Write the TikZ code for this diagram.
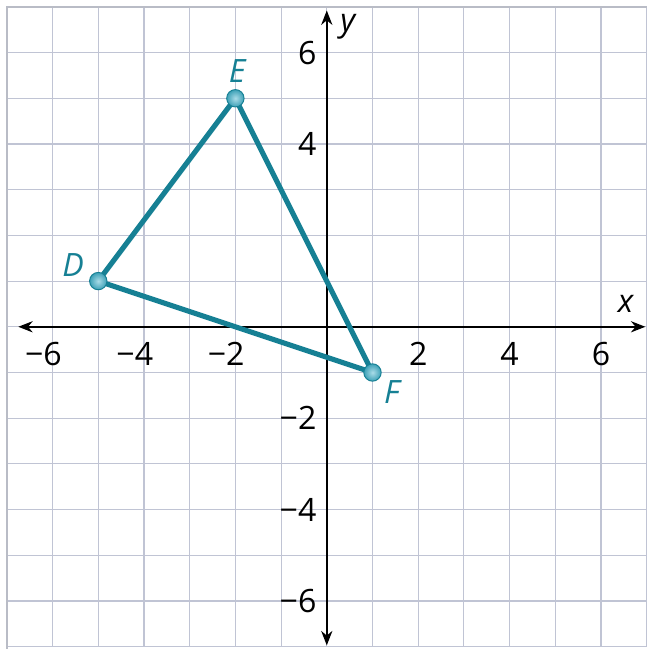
\documentclass[tikz,border=0pt]{standalone}
\usepackage{fontspec}
\setmainfont{Open Sans}
\usetikzlibrary{arrows.meta}
\definecolor{gridc}{RGB}{192,196,212}
\definecolor{framec}{RGB}{185,188,198}
\definecolor{teal}{RGB}{22,128,148}
\definecolor{ptlight}{RGB}{170,220,232}
\definecolor{ptmid}{RGB}{60,160,182}
\tikzset{
  gridline/.style={gridc, line width=0.7pt},
  axisline/.style={black, line width=0.9pt, -{Stealth[length=9pt,width=7pt]}},
  tri/.style={teal, line width=3.2pt, line join=round},
  pt/.style={circle, minimum size=0.38cm, inner sep=0pt, inner color=ptlight, outer color=ptmid, draw=teal, line width=0.6pt},
  lbl/.style={font=\fontsize{20}{24}\selectfont\itshape, text=teal},
  tick/.style={font=\fontsize{20}{24}\selectfont},
  axlbl/.style={font=\fontsize{20}{24}\selectfont\itshape}
}
\begin{document}
\begin{tikzpicture}
\useasboundingbox (-7.15,-7.05) rectangle (7.0,7.15);
\fill[white] (-7.15,-7.05) rectangle (7.0,7.15);
% grid
\draw[gridline] (-7,-7) grid (7,7);
\draw[framec, line width=1.6pt] (-7,-7.1) -- (-7,7) -- (7.1,7);
% axes
\coordinate (xl) at (-6.75,0);
\coordinate (xr) at (6.97,0);
\coordinate (yb) at (0,-6.97);
\coordinate (yt) at (0,6.92);
\draw[axisline] (0,0) -- (xr);
\draw[axisline] (0,0) -- (xl);
\draw[axisline] (0,0) -- (yt);
\draw[axisline] (0,0) -- (yb);
\node[axlbl] (xlab) at (6.54,0.5) {x};
\node[axlbl] (ylab) at (0.46,6.56) {y};
% tick labels
\foreach \v/\t in {-6/\llap{−}6,-4/\llap{−}4,-2/\llap{−}2,2/2,4/4,6/6}{
  \node[tick, anchor=north, inner sep=0pt] (tx\v) at (\v,-0.34) {\t};
}
\foreach \v/\t in {-6/−6,-4/−4,-2/−2,4/4,6/6}{
  \node[tick, anchor=east, inner sep=0pt] (ty\v) at (-0.22,\v) {\t};
}
% triangle
\coordinate (D) at (-5,1);
\coordinate (E) at (-2,5);
\coordinate (F) at (1,-1);
\draw[tri] (D) -- (E) -- (F) -- cycle;
\node[pt] (pD) at (D) {};
\node[pt] (pE) at (E) {};
\node[pt] (pF) at (F) {};
\node[lbl] (lD) at (-5.55,1.36) {D};
\node[lbl] (lE) at (-1.96,5.6) {E};
\node[lbl] (lF) at (1.42,-1.42) {F};
\end{tikzpicture}
\end{document}
